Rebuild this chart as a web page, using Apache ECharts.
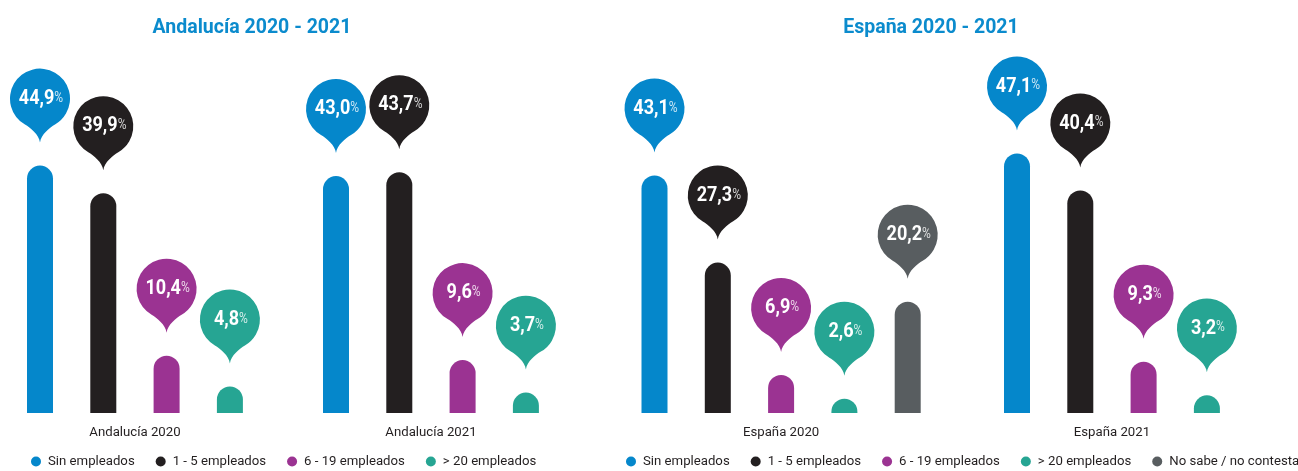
<!DOCTYPE html>
<html><head><meta charset="utf-8">
<script src="https://cdn.jsdelivr.net/npm/echarts@6/dist/echarts.min.js"></script>
<style>html,body{margin:0;padding:0;background:#fff}#c{width:1298px;height:471px}</style>
</head><body><div id="c"></div>
<script>
// ---- data ----
const employmentTypes = ['Sin empleados', '1 - 5 empleados', '6 - 19 empleados', '> 20 empleados', 'No sabe / no contesta'];
const groupNames = ['Andalucía 2020', 'Andalucía 2021', 'España 2020', 'España 2021'];
const panelTitles = ['Andalucía 2020 - 2021', 'España 2020 - 2021'];
const andalucia2020 = [44.9, 39.9, 10.4, 4.8];
const andalucia2021 = [43.0, 43.7, 9.6, 3.7];
const espana2020 = [43.1, 27.3, 6.9, 2.6, 20.2];
const espana2021 = [47.1, 40.4, 9.3, 3.2];
const groupValues = [andalucia2020, andalucia2021, espana2020, espana2021];

// ---- style / layout ----
const COLORS = ['#0587cb', '#231f20', '#9b3392', '#26a593', '#585d60'];
const TITLE_COLOR = '#0b8bcd';
const TEXT_COLOR = '#231f20';
const FONT = "Roboto,'Liberation Sans',sans-serif";
const CAT_W = 63.3;
const FIRST_CENTER = [40, 336, 654.5, 1017];
const BASELINE = 413, PX_PER_UNIT = 5.51, Y_MAX = 60;
const BALLOON_RISE = 67;
const BALLOON = 'M0,44 C-1,36 -9.8,29 -15,26 A30,30 0 1,1 15,26 C9.8,29 1,36 0,44 Z';

const fmt = v => v.toFixed(1).replace('.', ',');

const grid = [], xAxis = [], yAxis = [], series = [];
groupValues.forEach((vals, g) => {
  const n = vals.length;
  grid.push({
    left: FIRST_CENTER[g] - CAT_W / 2, width: CAT_W * n,
    top: BASELINE - Y_MAX * PX_PER_UNIT, height: Y_MAX * PX_PER_UNIT
  });
  xAxis.push({
    type: 'category', gridIndex: g, data: employmentTypes.slice(0, n),
    axisLine: { show: false }, axisTick: { show: false }, axisLabel: { show: false },
    splitLine: { show: false },
    name: groupNames[g], nameLocation: 'middle', nameGap: 13,
    nameTextStyle: { fontFamily: FONT, fontSize: 13.2, color: TEXT_COLOR }
  });
  yAxis.push({ type: 'value', gridIndex: g, min: 0, max: Y_MAX, show: false });
  vals.forEach((v, i) => {
    series.push({
      type: 'bar', name: employmentTypes[i], xAxisIndex: g, yAxisIndex: g,
      data: vals.map((x, j) => (j === i ? x : '-')),
      barWidth: 26, barGap: '-100%',
      itemStyle: { color: COLORS[i], borderRadius: [13, 13, 0, 0] },
      emphasis: { disabled: true }, silent: true
    });
  });
  series.push({
    type: 'custom', xAxisIndex: g, yAxisIndex: g, silent: true, z: 5,
    data: vals.map((v, i) => [i, v]),
    renderItem: (params, api) => {
      const i = api.value(0), v = api.value(1);
      const p = api.coord([i, v]);
      return {
        type: 'group', x: p[0], y: p[1] - BALLOON_RISE,
        children: [
          { type: 'path', shape: { pathData: BALLOON }, style: { fill: COLORS[i] } },
          {
            type: 'text', x: 1, y: 0, scaleX: 0.86, scaleY: 1,
            style: {
              text: '{v|' + fmt(v) + '}{p|%}', x: 0, y: 0, align: 'center', verticalAlign: 'middle',
              rich: {
                v: { fontSize: 21, fontWeight: 'bold', fontFamily: FONT, fill: '#ffffff' },
                p: { fontSize: 14, fontFamily: FONT, fill: 'rgba(255,255,255,0.8)', padding: [0, 0, 1, 0] }
              }
            }
          }
        ]
      };
    }
  });
});

const legendCommon = {
  icon: 'circle', itemWidth: 14, itemHeight: 10, itemGap: 21, selectedMode: false, padding: 0,
  top: 455, width: 720, textStyle: { fontFamily: FONT, fontSize: 13.2, color: TEXT_COLOR }
};

const chart = echarts.init(document.getElementById('c'), null, { renderer: 'canvas' });
chart.setOption({
  animation: false,
  backgroundColor: '#ffffff',
  title: [
    { text: panelTitles[0], left: 252, top: 18, textAlign: 'center', padding: 0,
      textStyle: { fontFamily: FONT, fontSize: 19.5, fontWeight: 'bold', color: TITLE_COLOR } },
    { text: panelTitles[1], left: 931, top: 18, textAlign: 'center', padding: 0,
      textStyle: { fontFamily: FONT, fontSize: 19.5, fontWeight: 'bold', color: TITLE_COLOR } }
  ],
  legend: [
    Object.assign({ data: employmentTypes.slice(0, 4), left: 31 }, legendCommon),
    Object.assign({ data: employmentTypes.slice(0, 5), left: 626 }, legendCommon)
  ],
  tooltip: { show: false },
  grid, xAxis, yAxis, series
});
</script></body></html>
